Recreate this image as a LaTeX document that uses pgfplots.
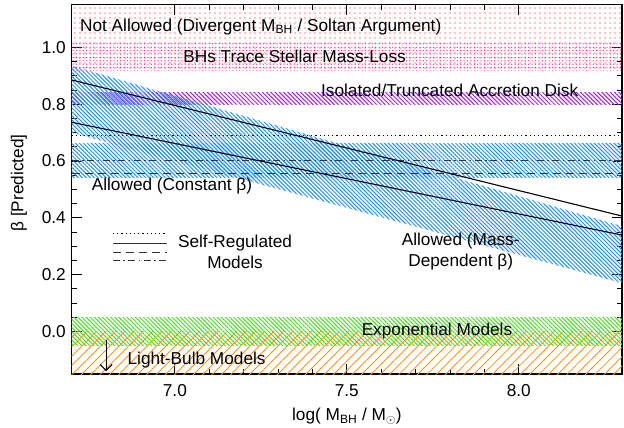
\documentclass[border=0pt]{standalone}
\usepackage{fontspec}
\setmainfont{Liberation Sans}
\usepackage{pgfplots}
\pgfplotsset{compat=1.18}
\usetikzlibrary{patterns.meta, arrows.meta}

\definecolor{notallowed}{RGB}{255,0,0}
\definecolor{stellarloss}{RGB}{255,20,147}
\definecolor{diskpurple}{RGB}{160,32,240}
\definecolor{allowblue}{RGB}{30,144,255}
\definecolor{expgreen}{RGB}{70,225,30}
\definecolor{bulborange}{RGB}{255,145,20}

\begin{document}
\fontsize{17.3}{21}\selectfont
\begin{tikzpicture}
\begin{axis}[
  scale only axis,
  width=550.3bp, height=369.3bp,
  xmin=6.7, xmax=8.3, ymin=-0.15, ymax=1.15,
  xtick={7.0,7.5,8.0},
  ytick={0.0,0.2,0.4,0.6,0.8,1.0},
  minor x tick num=4, minor y tick num=3,
  tick align=inside,
  major tick length=10bp, minor tick length=5bp,
  tick style={black, line width=0.8bp},
  axis line style={line width=1.1bp},
  /pgf/number format/assume math mode=true,
  /pgf/number format/fixed,
  /pgf/number format/fixed zerofill,
  /pgf/number format/precision=1,
  xticklabel style={anchor=center, yshift=-16.5bp},
  xlabel={log( M\textsubscript{BH} / M\textsubscript{$\odot$})},
  ylabel={β [Predicted]},
  xlabel style={at={(axis description cs:0.5,-0.127)}, anchor=base},
  ylabel style={at={(axis description cs:-0.0958,0.517)}, anchor=center},
]

% Not allowed region and stellar mass-loss band (dotted fills)
\addplot[draw=none, pattern={Dots[distance=5bp, radius=0.7bp]}, pattern color=notallowed]
  coordinates {(6.6,0.92) (8.4,0.92) (8.4,1.2) (6.6,1.2)} -- cycle;
\addplot[draw=none, pattern={Dots[distance=3.4bp, radius=0.65bp, xshift=1.7bp]}, pattern color=stellarloss]
  coordinates {(6.6,0.92) (8.4,0.92) (8.4,1.015) (6.6,1.015)} -- cycle;

% Isolated/truncated accretion disk
\addplot[draw=none, pattern={Lines[angle=-45, distance=3bp, line width=1bp]}, pattern color=diskpurple]
  coordinates {(6.6,0.80) (8.4,0.80) (8.4,0.84) (6.6,0.84)} -- cycle;

% Allowed, mass-dependent beta
\addplot[draw=none, pattern={Lines[angle=-45, distance=2.8bp, line width=1bp]}, pattern color=allowblue]
  coordinates {(6.7,0.935) (8.3,0.37) (8.3,0.17) (6.7,0.70)} -- cycle;

% Allowed, constant beta
\addplot[draw=none, pattern={Lines[angle=-45, distance=2.8bp, line width=1bp]}, pattern color=allowblue]
  coordinates {(6.6,0.54) (8.4,0.54) (8.4,0.66) (6.6,0.66)} -- cycle;

% Exponential models
\addplot[draw=none, pattern={Lines[angle=-45, distance=2.9bp, line width=1bp]}, pattern color=expgreen]
  coordinates {(6.6,-0.05) (8.4,-0.05) (8.4,0.05) (6.6,0.05)} -- cycle;

% Light-bulb models
\addplot[draw=none, pattern={Lines[angle=45, distance=6.6bp, line width=0.85bp]}, pattern color=bulborange]
  coordinates {(6.6,-0.2) (8.4,-0.2) (8.4,0.0) (6.6,0.0)} -- cycle;

% Self-regulated models
\addplot[black, line width=0.9bp, dash pattern=on 1.2bp off 3bp] coordinates {(6.7,0.69) (8.3,0.69)};
\addplot[black!80, line width=1.1bp, dash pattern=on 7bp off 3.5bp on 1.5bp off 3.5bp] coordinates {(6.7,0.60) (8.3,0.60)};
\addplot[black!80, line width=1.1bp, dash pattern=on 8bp off 5bp] coordinates {(6.7,0.555) (8.3,0.555)};
\addplot[black, line width=1.1bp] coordinates {(6.7,0.885) (8.3,0.406)};
\addplot[black, line width=1.1bp] coordinates {(6.7,0.736) (8.3,0.339)};

% Key for the self-regulated models
\addplot[black, line width=0.9bp, dash pattern=on 1.2bp off 3bp] coordinates {(6.82,0.343) (6.977,0.343)};
\addplot[black!80, line width=1.1bp] coordinates {(6.82,0.310) (6.977,0.310)};
\addplot[black!80, line width=1.1bp, dash pattern=on 8bp off 5bp] coordinates {(6.82,0.278) (6.977,0.278)};
\addplot[black!80, line width=1.1bp, dash pattern=on 7bp off 3.5bp on 1.5bp off 3.5bp] coordinates {(6.82,0.249) (6.977,0.249)};

% Light-bulb arrow
\addplot[black, line width=1bp, -{Straight Barb[length=6bp, width=12bp]}] coordinates {(6.8,-0.03) (6.8,-0.14)};

\node[anchor=west, inner sep=0pt] at (axis cs:6.724,1.073) {Not Allowed (Divergent M\textsubscript{BH} / Soltan Argument)};
\node[inner sep=0pt] at (axis cs:7.348,0.967) {BHs Trace Stellar Mass-Loss};
\node[inner sep=0pt] at (axis cs:7.799,0.850) {Isolated/Truncated Accretion Disk};
\node[anchor=west, inner sep=0pt] at (axis cs:6.758,0.512) {Allowed (Constant β)};
\node[align=center, inner sep=0pt] at (axis cs:7.175,0.281) {Self-Regulated\\Models};
\node[align=center, inner sep=0pt] at (axis cs:7.831,0.281) {Allowed (Mass-\\Dependent β)};
\node[inner sep=0pt] at (axis cs:7.762,0.0) {Exponential Models};
\node[anchor=west, inner sep=0pt] at (axis cs:6.862,-0.10) {Light-Bulb Models};
\end{axis}
\pgfresetboundingbox
\path ([shift={(-71.7bp,-54bp)}]current axis.south west) rectangle ([shift={(2bp,4.7bp)}]current axis.north east);
\end{tikzpicture}
\end{document}
